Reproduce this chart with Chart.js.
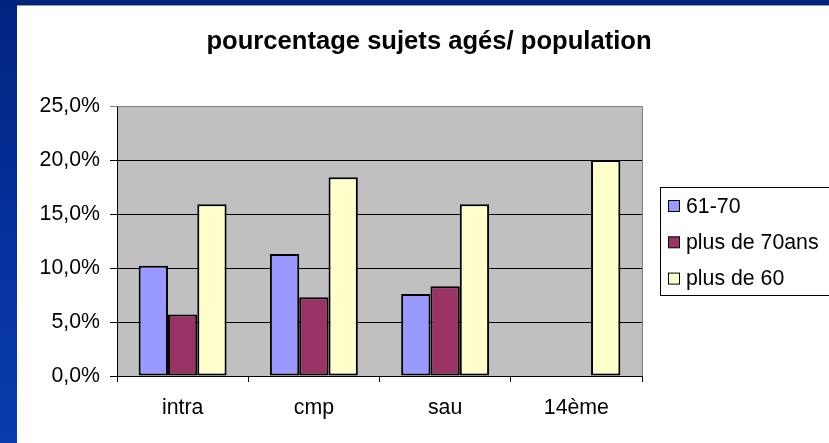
<!DOCTYPE html>
<html>
<head>
<meta charset="utf-8">
<script src="https://cdn.jsdelivr.net/npm/chart.js"></script>
<style>
  html, body { margin: 0; padding: 0; }
  body {
    width: 829px; height: 443px; overflow: hidden; position: relative;
    background: linear-gradient(180deg, #00237e 0%, #0532a0 55%, #0a3aac 100%);
  }
  #cadre {
    position: absolute; left: 17px; top: 5px; width: 812px; height: 438px;
    background: #fff; border-top: 1px solid #9a9a9a; box-sizing: border-box;
  }
  canvas { position: absolute; left: 0; top: -1px; }
</style>
</head>
<body>
<div id="cadre"><canvas id="graphique" width="812" height="438"></canvas></div>
<script>
// Données du graphique
const categories = ["intra", "cmp", "sau", "14ème"];
const serie6170 = [10.2, 11.3, 7.6, null];
const seriePlus70 = [5.7, 7.3, 8.3, null];
const seriePlus60 = [15.9, 18.4, 15.9, 20.0];
const titre = "pourcentage sujets agés/ population";
const yMax = 25;
const yPas = 5;

const police = "'Liberation Sans', Arial, sans-serif";
Chart.defaults.font.family = police;
Chart.defaults.font.size = 21.3;
Chart.defaults.color = "#000";

// Fond gris de la zone de tracé + bordure haut/droite
const fondPlot = {
    id: "fondPlot",
    beforeDraw(chart) {
        const { ctx, chartArea: a } = chart;
        ctx.save();
        ctx.fillStyle = "#c0c0c0";
        ctx.fillRect(a.left, a.top, a.right - a.left, a.bottom - a.top);
        ctx.restore();
    },
    afterDraw(chart) {
        const { ctx, chartArea: a } = chart;
        ctx.save();
        ctx.strokeStyle = "#808080";
        ctx.lineWidth = 1;
        ctx.beginPath();
        ctx.moveTo(a.left, a.top + 0.5);
        ctx.lineTo(a.right + 0.5, a.top + 0.5);
        ctx.lineTo(a.right + 0.5, a.bottom);
        ctx.stroke();
        ctx.restore();
    }
};

// Titre et légende dessinés à la manière d'Excel
const titreEtLegende = {
    id: "titreEtLegende",
    afterDraw(chart) {
        const ctx = chart.ctx;
        ctx.save();
        ctx.fillStyle = "#000";
        ctx.font = "bold 25.6px " + police;
        ctx.textAlign = "center";
        ctx.textBaseline = "alphabetic";
        ctx.fillText(titre, 412, 44);

        // cadre de la légende
        ctx.strokeStyle = "#000";
        ctx.lineWidth = 1;
        ctx.strokeRect(643.5, 182.5, 200, 108);
        ctx.font = "21.3px " + police;
        ctx.textAlign = "left";
        ctx.textBaseline = "middle";
        chart.data.datasets.forEach((ds, i) => {
            const y = 201 + i * 36.3;
            ctx.fillStyle = ds.backgroundColor;
            ctx.fillRect(651.5, y - 5.5, 11, 11);
            ctx.strokeRect(651.5, y - 5.5, 11, 11);
            ctx.fillStyle = "#000";
            ctx.fillText(ds.label, 669, y + 1);
        });
        ctx.restore();
    }
};

new Chart(document.getElementById("graphique").getContext("2d"), {
    type: "bar",
    data: {
        labels: categories,
        datasets: [
            { label: "61-70", data: serie6170, backgroundColor: "#9999ff" },
            { label: "plus de 70ans", data: seriePlus70, backgroundColor: "#993366" },
            { label: "plus de 60", data: seriePlus60, backgroundColor: "#ffffcc" }
        ]
    },
    options: {
        responsive: false,
        animation: false,
        devicePixelRatio: 1,
        layout: { padding: { top: 101, right: 187, bottom: 0, left: 0 } },
        datasets: {
            bar: {
                barPercentage: 1,
                categoryPercentage: 0.67,
                borderColor: "#000",
                borderWidth: 2,
                borderSkipped: false
            }
        },
        plugins: {
            legend: { display: false },
            title: { display: false },
            tooltip: { enabled: false }
        },
        scales: {
            x: {
                offset: true,
                afterFit: s => { s.height = 67; },
                grid: { offset: true, drawOnChartArea: false, tickLength: 6, color: "#000" },
                border: { color: "#000", width: 1 },
                ticks: { padding: 13, color: "#000" }
            },
            y: {
                min: 0,
                max: yMax,
                afterFit: s => { s.width = 100; },
                grid: {
                    tickLength: 7,
                    color: c => (c.tick && c.tick.value === yMax ? "#808080" : "#000"),
                    lineWidth: 1
                },
                border: { color: "#000", width: 1 },
                ticks: {
                    stepSize: yPas,
                    padding: 10,
                    color: "#000",
                    callback: v => v.toFixed(1).replace(".", ",") + "%"
                }
            }
        }
    },
    plugins: [fondPlot, titreEtLegende]
});
</script>
</body>
</html>
